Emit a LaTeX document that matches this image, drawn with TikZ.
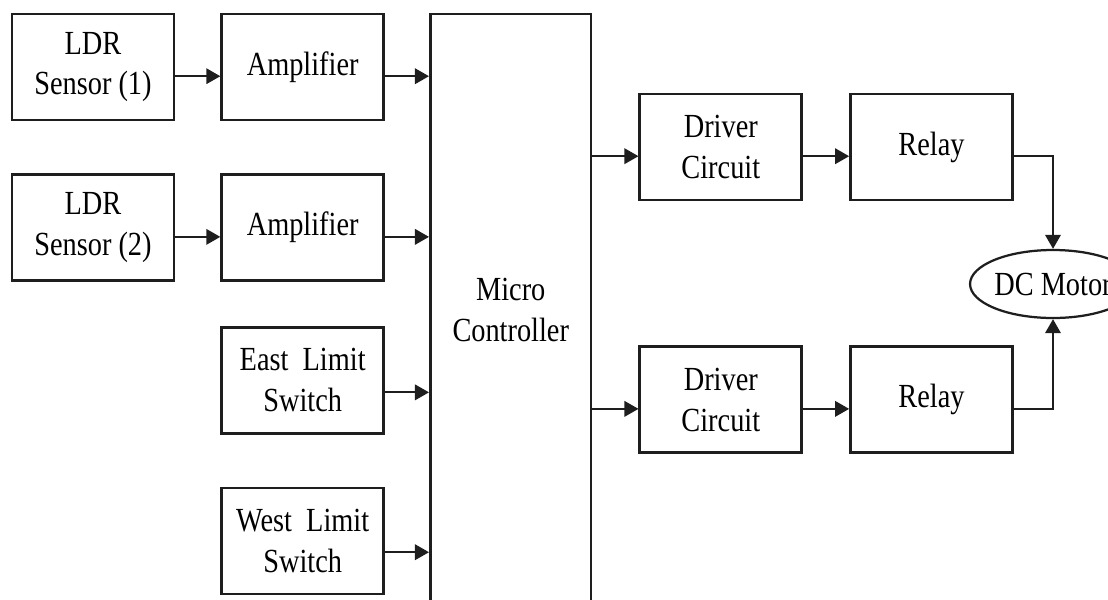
\documentclass[tikz,border=0pt]{standalone}
\usepackage{fontspec}
\setmainfont{Liberation Serif}[FakeStretch=0.84]
\usepackage{tikz}
\usetikzlibrary{arrows.meta,shapes.geometric,positioning}
\definecolor{lnc}{RGB}{30,30,30}
\tikzset{
  blk/.style={rectangle,draw=lnc,line width=1.9pt,
    minimum width=4.05cm,minimum height=2.65cm,align=center,
    inner sep=2pt,font=\fontsize{24}{29}\selectfont},
  ctl/.style={blk,minimum width=4.02cm,minimum height=14.8cm},
  mot/.style={ellipse,draw=lnc,line width=1.6pt,
    minimum width=3.4cm,minimum height=1.7cm,inner sep=0pt,
    font=\fontsize{24}{29}\selectfont},
  arr/.style={-{Triangle[length=10pt,width=11pt]},line width=1.5pt,color=lnc},
}

\begin{document}
\begin{tikzpicture}[node distance=1.125cm]
    \useasboundingbox (0,0) rectangle (27.7,-14.975);

    % Inputs - left column
    \node[blk] (ldr1) at (2.325,-1.675) {LDR\\Sensor (1)};
    \node[blk,right=of ldr1] (amp1) {Amplifier};
    \node[blk,below=1.3cm of ldr1] (ldr2) {LDR\\Sensor (2)};
    \node[blk,right=of ldr2] (amp2) {Amplifier};
    \node[blk,below=1.1cm of amp2] (east) {East~ Limit\\Switch};
    \node[blk,below=1.3cm of east] (west) {West~ Limit\\Switch};

    % Controller
    \node[ctl,below right=0cm and 1.1cm of amp1.north east] (mc) {Micro\\Controller};

    % Outputs
    \node[blk,below right=2cm and 1.15cm of mc.north east] (drv1) {Driver\\Circuit};
    \node[blk,right=1.15cm of drv1] (rel1) {Relay};
    \node[blk,below=3.6cm of drv1] (drv2) {Driver\\Circuit};
    \node[blk,right=1.15cm of drv2] (rel2) {Relay};
    \node[mot] (motor) at (26.325,-7.1) {DC Motor};

    \draw[arr] ([yshift=-0.23cm]ldr1.east) -- ([yshift=-0.23cm]amp1.west);
    \draw[arr] ([yshift=-0.23cm]ldr2.east) -- ([yshift=-0.23cm]amp2.west);
    \draw[arr] ([yshift=-0.23cm]amp1.east) -- ([yshift=-0.23cm]amp1.east -| mc.west);
    \draw[arr] ([yshift=-0.23cm]amp2.east) -- ([yshift=-0.23cm]amp2.east -| mc.west);
    \draw[arr] ([yshift=-0.3cm]east.east) -- ([yshift=-0.3cm]east.east -| mc.west);
    \draw[arr] ([yshift=-0.28cm]west.east) -- ([yshift=-0.28cm]west.east -| mc.west);
    \draw[arr] ([yshift=-0.23cm]drv1.west -| mc.east) -- ([yshift=-0.23cm]drv1.west);
    \draw[arr] ([yshift=-0.23cm]drv2.west -| mc.east) -- ([yshift=-0.23cm]drv2.west);
    \draw[arr] ([yshift=-0.23cm]drv1.east) -- ([yshift=-0.23cm]rel1.west);
    \draw[arr] ([yshift=-0.23cm]drv2.east) -- ([yshift=-0.23cm]rel2.west);
    \draw[arr] ([yshift=-0.23cm]rel1.east) -| (motor.north);
    \draw[arr] ([yshift=-0.23cm]rel2.east) -| (motor.south);
  \end{tikzpicture}
\end{document}
